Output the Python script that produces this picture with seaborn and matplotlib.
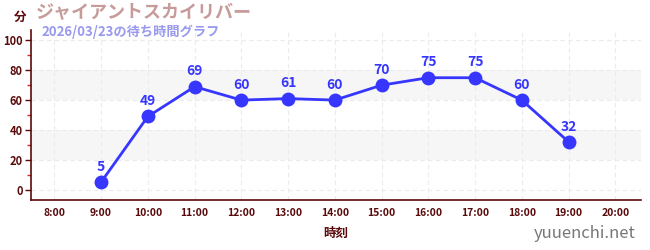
import matplotlib
matplotlib.use("Agg")
import matplotlib.pyplot as plt
import seaborn as sns
import pandas as pd
from matplotlib.ticker import MultipleLocator

hours = [9, 10, 11, 12, 13, 14, 15, 16, 17, 18, 19]
waits = [5, 49, 69, 60, 61, 60, 70, 75, 75, 60, 32]
xticks = list(range(8, 21))
xtick_labels = [f"{h}:00" for h in xticks]
yticks = [0, 20, 40, 60, 80, 100]
title = "ジャイアントスカイリバー"
subtitle = "2026/03/23の待ち時間グラフ"
ylabel = "分"
xlabel = "時刻"
watermark = "yuuenchi.net"

sns.set_theme(style="white")
plt.rcParams['font.family'] = ['Noto Sans CJK JP', 'DejaVu Sans']

df = pd.DataFrame({"hour": hours, "wait": waits})

fig = plt.figure(figsize=(6.5, 2.5), dpi=100)
ax = fig.add_axes([31/650, 50/250, 610/650, 170/250])

dark = "#5a0a0a"
blue = "#3636ff"

for lo, hi in [(20, 40), (60, 80)]:
    ax.axhspan(lo, hi, color="#f6f6f6", zorder=0, lw=0)

sns.lineplot(data=df, x="hour", y="wait", ax=ax, color=blue, lw=2,
             marker="o", markersize=10, markeredgewidth=0, zorder=3)

for h, w in zip(hours, waits):
    ax.annotate(str(w), (h, w), xytext=(0, 6), textcoords="offset points",
                ha="center", va="bottom", color=blue, fontsize=10,
                fontweight="bold", zorder=4)

ax.set_xlim(7.5, 20.55)
ax.set_ylim(-7, 107)
ax.set_xticks(xticks)
ax.set_xticklabels(xtick_labels, fontweight="bold")
ax.set_yticks(yticks)
ax.set_yticklabels([str(v) for v in yticks], fontweight="bold")
ax.yaxis.set_minor_locator(MultipleLocator(10))

ax.grid(True, which="major", axis="both", color="#ebebeb", ls=(0, (4, 3)), lw=0.8, zorder=1)
ax.set_axisbelow(True)

for s in ["top", "right"]:
    ax.spines[s].set_visible(False)
for s in ["left", "bottom"]:
    ax.spines[s].set_color(dark)
    ax.spines[s].set_linewidth(1.2)

ax.tick_params(axis="x", which="major", colors="#888888", length=4, width=1,
               labelsize=7.5, labelcolor=dark, pad=2)
ax.tick_params(axis="y", which="major", colors=dark, length=4, width=1,
               labelsize=8, labelcolor=dark, pad=2, left=True)
ax.tick_params(axis="y", which="minor", colors="#dd2222", length=3, width=1, left=True)

ax.set_xlabel(xlabel, color=dark, fontsize=9, fontweight="bold", labelpad=6)
ax.set_ylabel("")

fig.text(14/650, 1 - 17/250, ylabel, color=dark, fontsize=9, fontweight="bold",
         ha="left", va="center")
fig.text(36/650, 1 - 13/250, title, color="#c89b9b", fontsize=13, fontweight="bold",
         ha="left", va="center")
fig.text(41/650, 1 - 32/250, subtitle, color="#9999ee", fontsize=9.5, fontweight="bold",
         ha="left", va="center")
fig.text(636/650, 1 - 234/250, watermark, color="#777777", fontsize=12,
         ha="right", va="center")

fig.savefig("out.png", dpi=100)
